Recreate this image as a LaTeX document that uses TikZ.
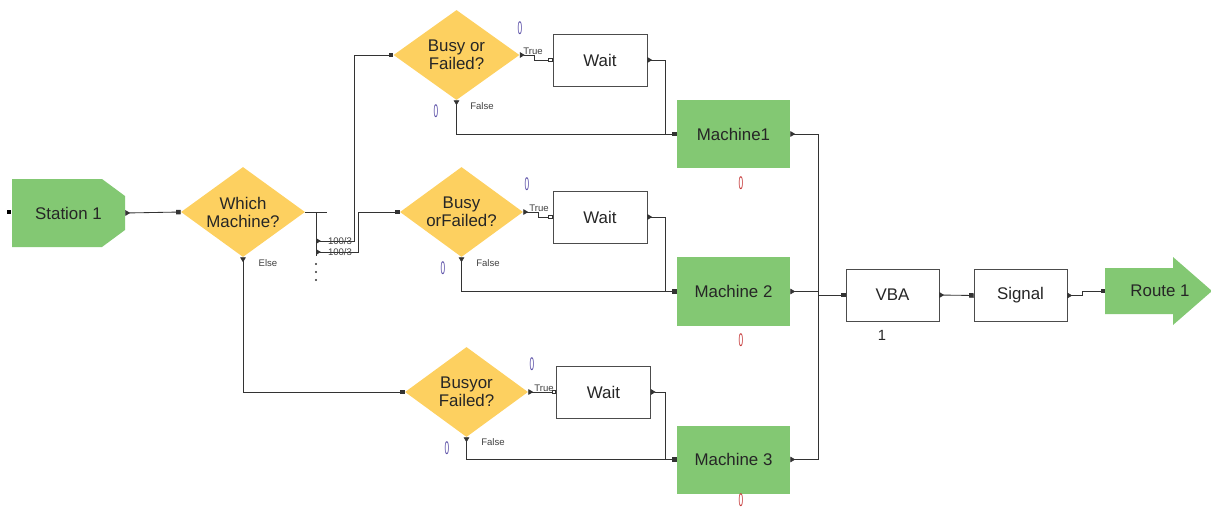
\documentclass[tikz,border=0pt]{standalone}
\usepackage{fontspec}
\setmainfont{Liberation Sans}
\usepackage{graphicx}
\usetikzlibrary{shapes.geometric,arrows.meta}
\definecolor{machgreen}{RGB}{131,200,115}
\definecolor{askyellow}{RGB}{253,208,96}
\definecolor{cntblue}{RGB}{88,76,165}
\definecolor{cntred}{RGB}{196,52,52}
\newcommand{\cntzero}{\scalebox{0.45}[1]{0}}

\begin{document}
\begin{tikzpicture}[x=0.025cm,y=-0.025cm,
  font=\fontsize{12}{12.8}\selectfont,
  ask/.style={diamond,aspect=1.38,fill=askyellow,inner sep=0pt,minimum width=3.15cm,minimum height=2.25cm,align=center,text=black!85},
  box/.style={rectangle,draw=black!70,fill=white,minimum width=2.35cm,minimum height=1.3cm,text=black!85},
  mach/.style={rectangle,fill=machgreen,minimum width=2.825cm,minimum height=1.7cm,text=black!85},
  tag/.style={font=\fontsize{6.8}{7}\selectfont,text=black!75,inner sep=0pt},
  cnt/.style={font=\fontsize{13}{13}\selectfont,text=cntblue,inner sep=0pt},
  port/.style={rectangle,fill=black,inner sep=0pt,minimum size=3.2pt},
  wire/.style={draw=black!80,line width=0.6pt},
  emit/.style={{Triangle[reversed,length=3.5pt,width=4pt]}-},
  link/.style={{Triangle[reversed,length=3.5pt,width=4pt]}-{Square[length=3.2pt,width=3.2pt]}},
  hold/.style={{Triangle[reversed,length=3.5pt,width=4pt]}-{Square[open,length=3.2pt,width=3.2pt,fill=white]}},
]
\useasboundingbox (0,0) rectangle (1211,508);
\clip (0,0) rectangle (1211,508);

% station and route shapes
\fill[machgreen] (12,179) -- (102,179) -- (125,196) -- (125,230) -- (102,247) -- (12,247) -- cycle;
\node[minimum width=2.825cm,minimum height=1.7cm,text=black!85] (st) at (68.5,213) {Station 1};
\node[port] (stin) at (9,212) {};
\fill[machgreen] (1105,268) -- (1173,268) -- (1173,257) -- (1212,291) -- (1173,325) -- (1173,314) -- (1105,314) -- cycle;
\node[text=black!85] (rt) at (1160,291) {Route 1};
\coordinate (rtin) at (1105,291);

% decisions
\node[ask,minimum width=3.1cm] (wm) at (243,212) {Which\\Machine?};
\node[ask] (b1) at (456.5,55) {Busy or\\Failed?};
\node[ask,minimum width=3.075cm] (b2) at (461.5,212) {Busy\\orFailed?};
\node[ask,minimum width=3.075cm] (b3) at (466.5,392) {Busyor\\Failed?};

% blocks
\node[box] (w1) at (600,60) {Wait};
\node[box] (w2) at (600,217) {Wait};
\node[box] (w3) at (603.5,392) {Wait};
\node[mach] (m1) at (733.5,134) {Machine1};
\node[mach] (m2) at (733.5,291.5) {Machine 2};
\node[mach] (m3) at (733.5,459.5) {Machine 3};
\node[box,minimum width=2.325cm] (vba) at (892.5,295) {VBA};
\node[box,minimum width=2.325cm] (sig) at (1020.5,295.5) {Signal};

% routing out of the first decision
\draw[wire,link] (st.east) -- (wm.west);
\draw[wire] (wm.east) -- ++(22,0);
\coordinate (fork) at (316,212);
\coordinate (r1) at (316,241);
\coordinate (r2) at (316,252);
\draw[wire] (fork) -- (316,256);
\foreach \y in {264,272,280}
  \fill[black!80] (316,\y) circle (0.75pt);
\draw[wire,link] (r1) -- ++(38,0) |- (b1.west);
\draw[wire,link] (r2) -- ++(42,0) |- (b2.west);
\draw[wire,link] (wm.south) |- (b3.west);
\node[tag] (p1) at (340,241) {100/3};
\node[tag] (p2) at (340,252) {100/3};
\node[tag] (else) at (268,263) {Else};

% true / false branches
\draw[wire,hold] (b1.east) -- ++(15,0) |- (w1.west);
\draw[wire,hold] (b2.east) -- ++(15,0) |- (w2.west);
\draw[wire,hold] (b3.east) -- (w3.west);
\draw[wire,link] (b1.south) |- (m1.west);
\draw[wire,link] (b2.south) |- (m2.west);
\draw[wire,link] (b3.south) |- (m3.west);
\coordinate (j1) at ([xshift=-0.275cm]m1.west);
\coordinate (j2) at ([xshift=-0.275cm]m2.west);
\coordinate (j3) at ([xshift=-0.275cm]m3.west);
\draw[wire,emit] (w1.east) -| (j1);
\draw[wire,emit] (w2.east) -| (j2);
\draw[wire,emit] (w3.east) -| (j3);
\node[tag] (tr1) at (533,51) {True};
\node[tag] (tr2) at (539,208) {True};
\node[tag] (tr3) at (544,388) {True};
\node[tag] (f1) at (482,106) {False};
\node[tag] (f2) at (488,263) {False};
\node[tag] (f3) at (493,442) {False};

% machines to the end
\coordinate (bus1) at ([xshift=0.7cm]m1.east);
\coordinate (bus3) at (bus1 |- m3.east);
\draw[wire,emit] (m1.east) -- (bus1) -- (bus3);
\draw[wire,emit] (m3.east) -- (bus3);
\draw[wire,emit] (m2.east) -- (m2.east -| bus1);
\draw[wire,-{Square[length=3.2pt,width=3.2pt]}] (bus1 |- vba.west) -- (vba.west);
\draw[wire,link] (vba.east) -- (sig.west);
\draw[wire,link] (sig.east) -- ++(15,0) |- (rtin);

% counters
\node[cnt] (c1) at (520,28) {\cntzero};
\node[cnt] (c2) at (436,111) {\cntzero};
\node[cnt] (c3) at (527,184) {\cntzero};
\node[cnt] (c4) at (443,268) {\cntzero};
\node[cnt] (c5) at (532,364) {\cntzero};
\node[cnt] (c6) at (447,448) {\cntzero};
\node[cnt,text=cntred] (c7) at (741,183) {\cntzero};
\node[cnt,text=cntred] (c8) at (741,340) {\cntzero};
\node[cnt,text=cntred] (c9) at (741,500) {\cntzero};
\node[font=\fontsize{10.5}{11}\selectfont,text=black!85] (n1) at (882,335) {1};
\end{tikzpicture}
\end{document}
